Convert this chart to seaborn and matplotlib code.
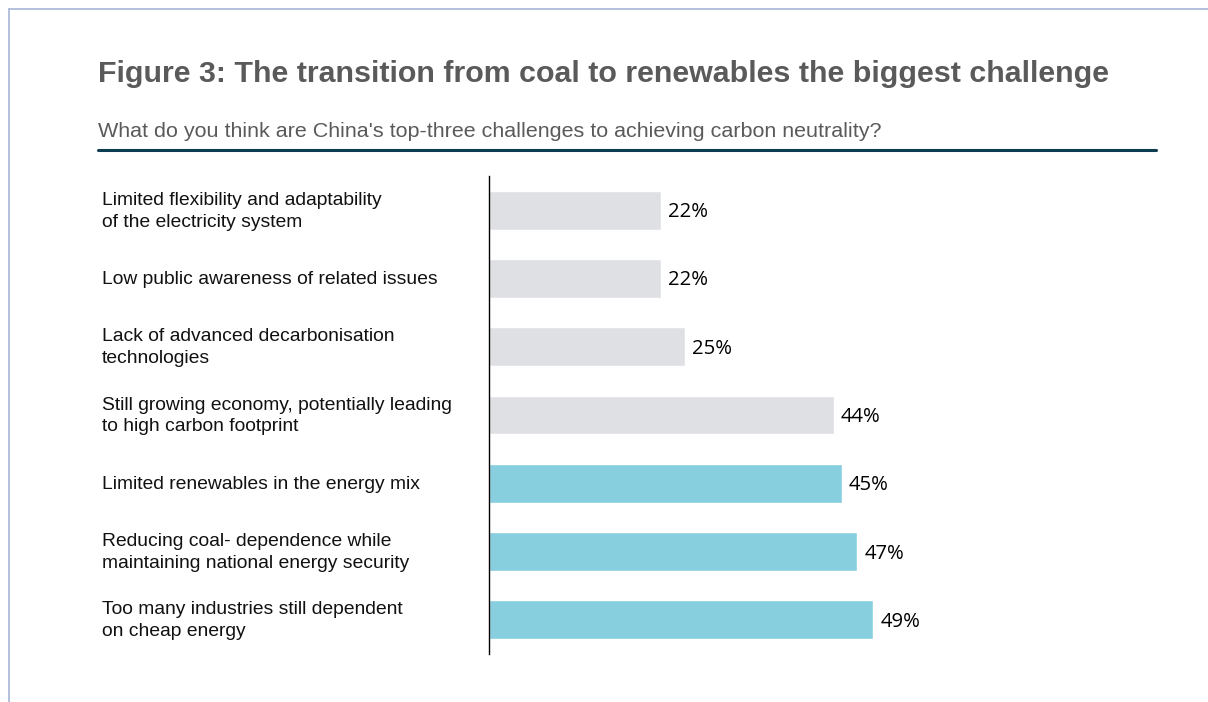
import matplotlib
matplotlib.use("Agg")
import matplotlib.pyplot as plt
import matplotlib.transforms as mtransforms
from matplotlib.lines import Line2D
import seaborn as sns
import pandas as pd

categories = [
    "Limited flexibility and adaptability\nof the electricity system",
    "Low public awareness of related issues",
    "Lack of advanced decarbonisation\ntechnologies",
    "Still growing economy, potentially leading\nto high carbon footprint",
    "Limited renewables in the energy mix",
    "Reducing coal- dependence while\nmaintaining national energy security",
    "Too many industries still dependent\non cheap energy",
]
values = [22, 22, 25, 44, 45, 47, 49]
highlight = ["no", "no", "no", "no", "yes", "yes", "yes"]
value_labels = ["22%", "22%", "25%", "44%", "45%", "47%", "49%"]

title = "Figure 3: The transition from coal to renewables the biggest challenge"
subtitle = "What do you think are China's top-three challenges to achieving carbon neutrality?"

df = pd.DataFrame({"cat": categories, "val": values, "hl": highlight})

sns.set_theme(style="white")
plt.rcParams["font.family"] = ["Liberation Sans", "DejaVu Sans"]

W, H = 1208, 702
fig = plt.figure(figsize=(W / 100, H / 100), dpi=100)

def fx(px):
    return px / W

def fy(py):
    return 1 - py / H

ax = fig.add_axes([fx(489), fy(654), fx(1155.4) - fx(489), fy(176) - fy(654)])
sns.barplot(data=df, y="cat", x="val", hue="hl", orient="h",
            palette={"no": "#dfe0e4", "yes": "#87cedf"}, width=0.57,
            dodge=False, legend=False, ax=ax, saturation=1)
ax.set_xlim(0, 85)
ax.set_ylim(6.5, -0.5)
ax.set_xlabel("")
ax.set_ylabel("")
ax.set_xticks([])
ax.set_yticks([])
for s in ["top", "right", "bottom"]:
    ax.spines[s].set_visible(False)
ax.spines["left"].set_color("#000000")
ax.spines["left"].set_linewidth(1.0)

# category labels
trans = mtransforms.blended_transform_factory(fig.transFigure, ax.transData)
off_lab = mtransforms.offset_copy(trans, fig=fig, x=0, y=-1, units="dots")
for i, c in enumerate(categories):
    ax.text(fx(102), i, c, transform=off_lab, ha="left", va="center",
            fontsize=13.85, color="#111111", linespacing=1.38)

# value labels
off = mtransforms.offset_copy(ax.transData, fig=fig, x=7, y=-2, units="dots")
for i, (v, lab) in enumerate(zip(values, value_labels)):
    ax.text(v, i, lab, transform=off, ha="left", va="center",
            fontsize=14.6, color="#000000", fontweight="medium",
            family=["Open Sans", "DejaVu Sans"])

# title and subtitle
fig.text(fx(98), fy(82), title, ha="left", va="baseline", fontsize=21.9,
         fontweight="bold", color="#5a5a5a")
fig.text(fx(98), fy(137), subtitle, ha="left", va="baseline", fontsize=15.45,
         color="#5a5a5a")

# rule under subtitle
fig.add_artist(Line2D([fx(98), fx(1156)], [fy(150), fy(150)], color="#0d3b4f",
                      linewidth=2.2, transform=fig.transFigure))
# frame lines
fig.add_artist(Line2D([fx(8.5), fx(8.5)], [fy(9), 0], color="#aebbd8",
                      linewidth=1.3, transform=fig.transFigure))
fig.add_artist(Line2D([fx(8.5), 1], [fy(9), fy(9)], color="#aebbd8",
                      linewidth=1.3, transform=fig.transFigure))

fig.savefig("out.png", dpi=100)
